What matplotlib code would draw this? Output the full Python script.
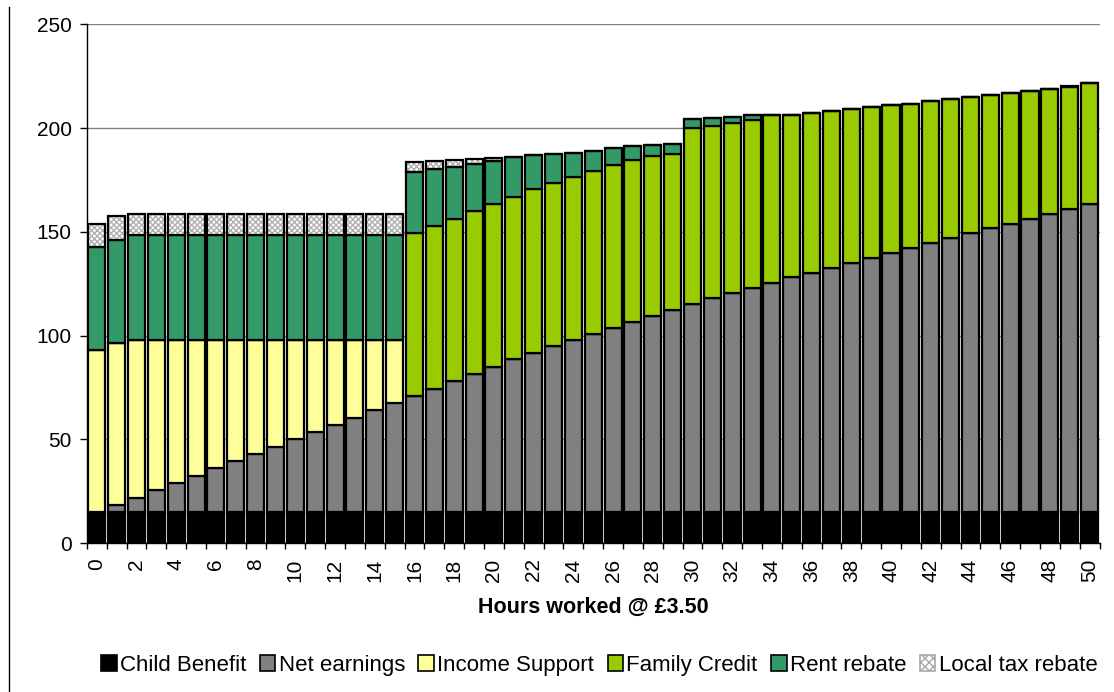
"""
Stacked income components by hours worked at £3.50 an hour
"""

import matplotlib
matplotlib.use("Agg")
import matplotlib.pyplot as plt
from matplotlib.patches import Patch
from matplotlib.lines import Line2D
import numpy as np

plt.rcParams["font.family"] = ["Liberation Sans", "DejaVu Sans"]

hours = list(range(51))

child_benefit = [15] * 51

net_earnings = [0, 3.5, 7, 10.5, 14, 17.5, 21, 24.5, 28, 31.5,
                35, 38.5, 42, 45.5, 49, 52.5, 56, 59.5, 63, 66.5,
                70, 73.5, 76.7, 79.9, 83.1, 86, 88.9, 91.6, 94.3, 97.2,
                100.3, 102.9, 105.3, 107.7, 110.4, 113, 115.2, 117.8, 120.2, 122.4,
                125, 127.3, 129.7, 132.1, 134.2, 136.6, 139, 141.4, 143.8, 146.2,
                148.6]

income_support = [78, 78, 76.1, 72.6, 69.1, 65.6, 62.1, 58.6, 55.1, 51.6,
                  48.1, 44.6, 41.1, 37.6, 34.1, 30.6] + [0] * 35

family_credit = [0] * 16 + [78.5, 78.4, 78.4, 78.6, 78.3, 78.3, 78.7, 78.7, 78.4, 78.4,
                            78.2, 78.2, 77.1, 75.5, 84.7, 83.1, 82.3, 81.1, 80.8, 78.2,
                            77, 75.6, 74, 72.6, 71, 69.5, 68.3, 66.9, 65.8, 64.4,
                            63, 61.6, 60.2, 58.8, 58.2]

rent_rebate = [49.7, 49.8] + [50.3] * 14 + [29.5, 27.3, 25, 22.8, 20.9, 19.4, 16.4, 14,
                                             11.7, 9.6, 8.4, 6.4, 5.4, 4.6, 4.5, 3.9,
                                             2.8, 2.4, 0.3] + [0] * 16

local_tax_rebate = [11, 11.2] + [10.4] * 14 + [4.6, 4.0, 3.4, 2.2, 1.2] + [0] * 30

series = [("Child Benefit", child_benefit, "#000000"),
          ("Net earnings", net_earnings, "#808080"),
          ("Income Support", income_support, "#FFFF99"),
          ("Family Credit", family_credit, "#99CC00"),
          ("Rent rebate", rent_rebate, "#339966")]

fig = plt.figure(figsize=(11.14, 6.92), dpi=100)
ax = fig.add_axes([0.078, 0.215, 0.909, 0.75])

x = np.array(hours)
width = 0.86
lw = 1.6
bottom = np.zeros(len(hours))
for name, vals, col in series:
    vals = np.array(vals, dtype=float)
    ax.bar(x, vals, width, bottom=bottom, color=col, edgecolor="black",
           linewidth=lw, zorder=2)
    bottom += vals

# local tax rebate: hatched fill, then black outline on top
lt = np.array(local_tax_rebate, dtype=float)
ax.bar(x, lt, width, bottom=bottom, color="white", edgecolor="#B0B0B0",
       hatch="xxxxxx", linewidth=0, zorder=2)
ax.bar(x, lt, width, bottom=bottom, fill=False, edgecolor="black",
       linewidth=lw, zorder=3)

ax.set_xlim(-0.5, 50.5)
ax.set_ylim(0, 250)
ax.set_yticks(np.arange(0, 251, 50))
ax.yaxis.grid(True, color="#808080", linewidth=1)
ax.set_axisbelow(True)

ax.set_xticks(x[::2])
ax.set_xticklabels([str(h) for h in hours[::2]], rotation=90)
ax.set_xticks(np.arange(-0.5, 51, 1), minor=True)
ax.tick_params(axis="x", which="major", length=0, pad=11, labelsize=15)
ax.tick_params(axis="x", which="minor", length=4, width=1)
ax.tick_params(axis="y", length=5, width=1, labelsize=15, pad=6)

for s in ["top", "right"]:
    ax.spines[s].set_visible(False)
ax.spines["left"].set_linewidth(1)
ax.spines["bottom"].set_linewidth(1)

ax.set_xlabel("Hours worked @ £3.50", fontsize=15.5, fontweight="bold", labelpad=11)

handles = [Patch(facecolor=c, edgecolor="black", linewidth=1.2) for _, _, c in series]
handles.append(Patch(facecolor="white", edgecolor="#A8A8A8", hatch="xxxx", linewidth=1.2))
labels = [s[0] for s in series] + ["Local tax rebate"]
fig.legend(handles, labels, loc="center", bbox_to_anchor=(0.538, 0.039), ncol=6,
           frameon=False, fontsize=16, handlelength=0.7, handleheight=0.7,
           handletextpad=0.15, columnspacing=0.6)

fig.add_artist(Line2D([0.0085, 0.0085], [0.0, 0.99], color="black", linewidth=1))

fig.savefig("out.png", dpi=100)
plt.close(fig)
